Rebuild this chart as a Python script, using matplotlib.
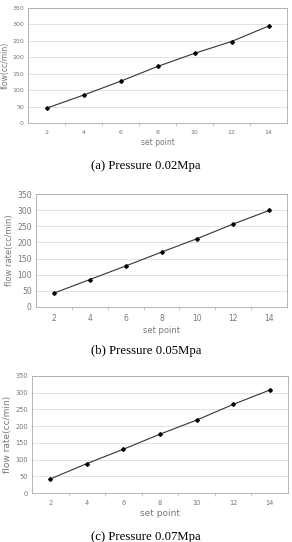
import matplotlib.pyplot as plt

# data
set_point = [2, 4, 6, 8, 10, 12, 14]
flow_a = [45, 85, 127, 172, 212, 248, 295]   # 0.02 Mpa
flow_b = [43, 85, 127, 170, 212, 257, 299]   # 0.05 Mpa
flow_c = [42, 88, 131, 176, 218, 265, 308]   # 0.07 Mpa

ylabels = ['flow(cc/min)', 'flow rate(cc/min)', 'flow rate(cc/min)']
captions = ['(a) Pressure 0.02Mpa', '(b) Pressure 0.05Mpa', '(c) Pressure 0.07Mpa']

W, H = 292, 542
fig = plt.figure(figsize=(W / 100, H / 100), dpi=100)

# axes boxes in pixels: left, right, top, bottom
boxes = [(28, 287, 8, 123), (36, 287, 194, 307), (32, 288, 376, 493)]
cap_y = [166, 351, 537]
tick_fs = [4.5, 5.5, 4.8]
lab_fs = [5.5, 6, 6.5]

grey = '#777777'
for flow, box, ylab, cap, cy, tfs, lfs in zip([flow_a, flow_b, flow_c], boxes, ylabels,
                                             captions, cap_y, tick_fs, lab_fs):
    l, r, t, b = box
    ax = fig.add_axes([l / W, 1 - b / H, (r - l) / W, (b - t) / H])
    ax.plot(set_point, flow, color='#333333', lw=0.8, marker='D', ms=1.9,
            mfc='black', mec='black')
    ax.set_xlim(1, 15)
    ax.set_ylim(0, 350)
    ax.set_yticks(range(0, 351, 50))
    ax.set_xticks(set_point)
    ax.set_xticks([3, 5, 7, 9, 11, 13], minor=True)
    ax.grid(axis='y', color='#dddddd', lw=0.6)
    ax.set_axisbelow(True)
    for s in ax.spines.values():
        s.set_color('#aaaaaa')
        s.set_linewidth(0.6)
    ax.tick_params(axis='x', which='major', length=0, labelsize=tfs, colors=grey, pad=5)
    ax.tick_params(axis='x', which='minor', length=2, color='#aaaaaa', width=0.5)
    ax.tick_params(axis='y', length=0, labelsize=tfs, colors=grey, pad=3)
    ax.set_xlabel('set point', fontsize=lfs, color=grey, labelpad=2)
    ax.set_ylabel(ylab, fontsize=lfs, color=grey, labelpad=2)
    fig.text(0.5, 1 - cy / H, cap, ha='center', va='center',
             family='Liberation Serif', fontsize=9.2)

fig.savefig('out.png', dpi=100)
